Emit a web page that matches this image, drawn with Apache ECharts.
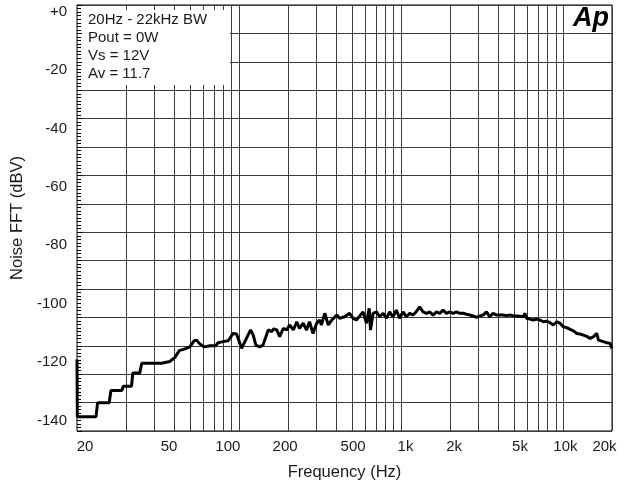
<!DOCTYPE html>
<html>
<head>
<meta charset="utf-8">
<script src="https://cdn.jsdelivr.net/npm/echarts@6/dist/echarts.min.js"></script>
<style>
  html, body { margin: 0; padding: 0; background: #fff; }
  #chart { width: 624px; height: 490px; }
</style>
</head>
<body>
<div id="chart"></div>
<script>
// noise spectrum: [frequency Hz, dBV]
const noiseCurve = [
  [10, -119.1], [10.05, -138.7], [13.1, -138.7], [13.4, -133.9], [15.8, -133.9],
  [16.2, -129.7], [18.9, -129.7], [19.3, -128.3], [21.7, -128.3], [22.1, -123.7],
  [24.4, -123.7], [25.1, -120.4], [33.3, -120.4], [34.0, -119.8], [37.4, -119.8],
  [38.4, -120.4], [40.2, -118.4], [42.7, -116.1], [46.3, -115.5], [49.7, -114.8],
  [52.6, -112.8], [54.7, -112.5], [56.8, -113.6], [60.7, -114.8], [66.1, -114.4],
  [71.9, -114.4], [74.0, -113.4], [79.8, -113.0], [85.7, -112.7], [91.9, -110.2],
  [96.5, -110.4], [103.6, -115.3], [108.6, -113.0], [117.8, -109.0], [122, -110.6],
  [126.9, -114.2], [134, -114.8], [140.5, -114.2], [144.1, -114.8], [151.3, -109.0],
  [158.9, -109.6], [164, -108.6], [170.8, -109.0], [178, -111.3], [187.3, -108.5],
  [196.7, -109.0], [205, -107.3], [216.4, -109.0], [227, -106.2], [236, -108.5],
  [248.6, -106.7], [261, -109.0], [272, -106.2], [286, -110.2], [301, -106.7],
  [314, -105.6], [322, -107.3], [338, -103.3], [355, -107.3], [373, -105.6],
  [401, -103.9], [417, -105.0], [447, -104.5], [481, -103.3], [505, -105.0],
  [530, -105.6], [582, -102.8], [611, -106.7], [635, -101.6], [647, -109.0],
  [671, -103.3], [705, -102.8], [737, -104.5], [774, -103.3], [812, -105.0],
  [849, -102.8], [890, -104.5], [934, -102.2], [979, -105.0], [1027, -102.8],
  [1077, -104.5], [1130, -103.3], [1180, -103.9], [1237, -102.8], [1301, -101.1],
  [1364, -102.8], [1431, -103.3], [1500, -102.8], [1574, -103.9], [1651, -102.8],
  [1730, -103.3], [1815, -102.2], [1904, -103.3], [1996, -102.8], [2093, -103.3],
  [2196, -102.8], [2300, -103.3], [2414, -103.3], [2530, -103.6], [2652, -103.9],
  [2780, -104.2], [2917, -104.7], [3060, -104.2], [3206, -103.9], [3363, -102.8],
  [3524, -104.5], [3695, -103.3], [3876, -103.9], [4060, -103.9], [4263, -103.9],
  [4470, -104.1], [4686, -103.9], [4900, -104.1], [5151, -104.2], [5400, -104.3],
  [5661, -104.5], [5800, -103.3], [5945, -105.0], [6230, -105.3], [6537, -105.6],
  [6850, -105.3], [7182, -105.6], [7540, -106.2], [7900, -106.0], [8287, -106.5],
  [8693, -107.3], [9128, -106.2], [9548, -106.7], [10020, -107.9], [10500, -108.2],
  [11030, -108.8], [11570, -109.3], [12130, -110.2], [12700, -110.4], [13330, -110.8],
  [14000, -111.2], [14660, -111.9], [15300, -111.4], [16110, -110.2], [16500, -112.5],
  [17700, -113.0], [18600, -113.4], [19440, -113.6], [20000, -115.3]
]

// vertical grid lines (Hz)
const freqGrid = [
  20, 30, 40, 50, 60, 70, 80, 90,
  100, 200, 300, 400, 500, 600, 700, 800, 900,
  1000, 2000, 3000, 4000, 5000, 6000, 7000, 8000, 9000,
  10000, 20000
]

// x tick labels, and where they sit along the axis (fraction of width)
const freqLabels = ['20', '50', '100', '200', '500', '1k', '2k', '5k', '10k', '20k']
const freqLabelPos = [0.015, 0.172, 0.282, 0.389, 0.516, 0.614, 0.705, 0.828, 0.913, 0.986]

// y tick labels (dBV)
const dbTicks = [0, -20, -40, -60, -80, -100, -120, -140]

const notes = ['20Hz - 22kHz BW', 'Pout = 0W', 'Vs = 12V', 'Av = 11.7']

const font = '"Liberation Sans", Arial, sans-serif'
const gridColor = '#3c3c3c'

const chart = echarts.init(document.getElementById('chart'), null, { renderer: 'canvas' })

chart.setOption({
  animation: false,
  backgroundColor: '#fff',
  textStyle: { fontFamily: font },
  grid: {
    left: 77,
    right: 12,
    top: 5,
    bottom: 59,
    show: true,
    borderColor: '#000',
    borderWidth: 1
  },
  xAxis: [
    {
      // log axis carrying the data and grid lines
      type: 'log',
      logBase: 10,
      min: 10,
      max: 20000,
      axisLine: { show: false },
      axisTick: { show: false, customValues: freqGrid },
      axisLabel: { show: false },
      splitLine: { show: true, lineStyle: { color: gridColor, width: 1 } },
      minorTick: { show: false },
      minorSplitLine: { show: false }
    },
    {
      // label-only axis
      type: 'value',
      position: 'bottom',
      min: 0,
      max: 1,
      axisLine: { show: false },
      axisTick: { show: false },
      splitLine: { show: false },
      axisLabel: {
        customValues: freqLabelPos,
        formatter: v => freqLabels[freqLabelPos.indexOf(v)] || '',
        color: '#1a1a1a',
        fontSize: 15,
        margin: 8,
        fontFamily: font
      },
      name: 'Frequency (Hz)',
      nameLocation: 'middle',
      nameGap: 33,
      nameTextStyle: { fontSize: 16.5, color: '#1a1a1a', fontFamily: font }
    }
  ],
  yAxis: [
    {
      type: 'value',
      min: -143.6,
      max: 2.26,
      axisLine: { show: false },
      axisTick: { show: false },
      splitLine: { show: false },
      axisLabel: {
        customValues: dbTicks,
        formatter: v => (v === 0 ? '+0' : String(v)),
        color: '#1a1a1a',
        fontSize: 15,
        margin: 10,
        fontFamily: font
      },
      name: 'Noise FFT (dBV)',
      nameLocation: 'middle',
      nameGap: 50,
      nameTextStyle: { fontSize: 16.5, color: '#1a1a1a', fontFamily: font }
    },
    {
      // 15 equal bands for the horizontal grid, with fine ticks on the left edge
      type: 'value',
      position: 'left',
      min: 0,
      max: 15,
      interval: 1,
      axisLine: { show: false },
      axisLabel: { show: false },
      axisTick: { show: true, inside: true, length: 5, lineStyle: { color: '#000' } },
      minorTick: { show: true, splitNumber: 8, length: 4, lineStyle: { color: '#000' } },
      splitLine: { show: true, lineStyle: { color: gridColor, width: 1 } }
    }
  ],
  graphic: [
    {
      type: 'rect',
      z: 10,
      shape: { x: 82, y: 10, width: 148, height: 75 },
      style: { fill: '#fff' }
    },
    ...notes.map((t, i) => ({
      type: 'text',
      z: 11,
      x: 88,
      y: 20 + i * 17.8,
      style: {
        text: t,
        fill: '#1a1a1a',
        font: '15px ' + font,
        textVerticalAlign: 'middle'
      }
    })),
    {
      type: 'text',
      z: 11,
      x: 609,
      y: 5,
      style: {
        text: 'Ap',
        fill: '#000',
        font: 'italic 900 27px ' + font,
        textAlign: 'right',
        textVerticalAlign: 'top'
      }
    }
  ],
  series: [
    {
      type: 'line',
      xAxisIndex: 0,
      yAxisIndex: 0,
      data: noiseCurve,
      showSymbol: false,
      lineStyle: { color: '#000', width: 3 },
      z: 5
    }
  ]
})
</script>
</body>
</html>
